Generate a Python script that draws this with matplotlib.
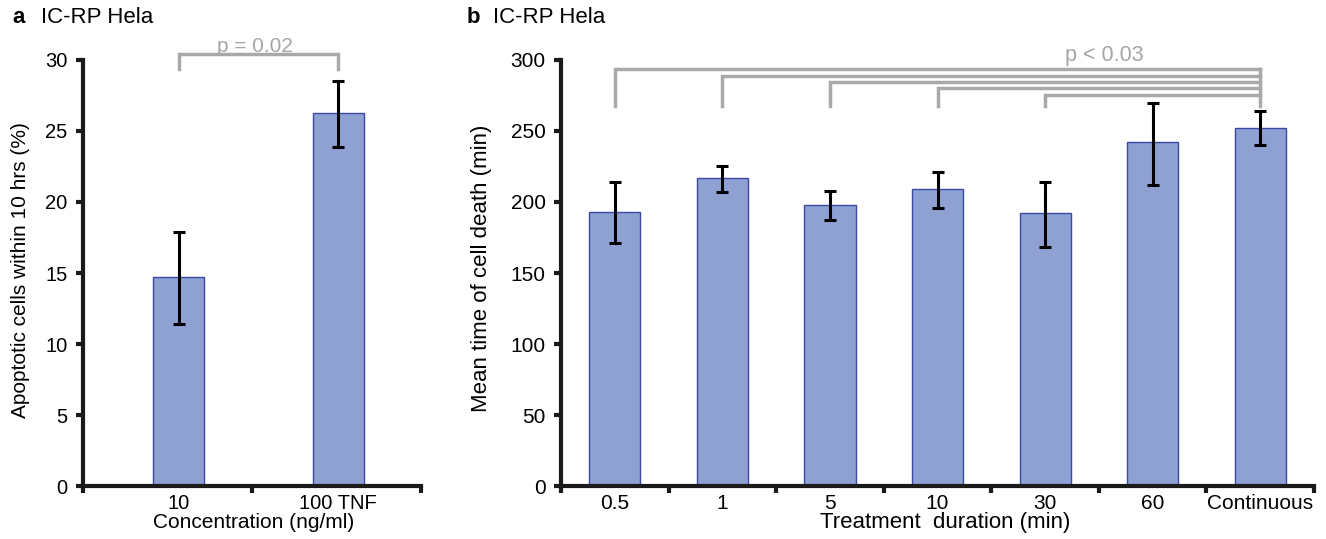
import matplotlib
matplotlib.use("Agg")
import matplotlib.pyplot as plt
import numpy as np

plt.rcParams["font.family"] = ["Liberation Sans", "DejaVu Sans"]

# panel a: apoptosis within 10 hrs
conc_labels = ["10", "100 TNF"]
apopt_mean = [14.7, 26.3]
apopt_lo = [11.4, 23.9]
apopt_hi = [17.9, 28.5]

# panel b: mean time of cell death
dur_labels = ["0.5", "1", "5", "10", "30", "60", "Continuous"]
death_mean = [193, 217, 198, 209, 192, 242, 252]
death_lo = [171, 207, 187, 196, 168, 212, 240]
death_hi = [214, 225, 208, 221, 214, 270, 264]

# significance brackets in panel b: (left category, bracket height)
brk_left = [0, 1, 2, 3, 4]
brk_y = [294, 289, 284.5, 280, 275.5]
brk_foot = 267.5

BAR = "#8ea1d2"
EDGE = "#3a48a3"
GREY = "#a9a9a9"


def style_axes(ax, lo, hi, n, labels, ticksize):
    for s in ("top", "right"):
        ax.spines[s].set_visible(False)
    for s in ("left", "bottom"):
        ax.spines[s].set_linewidth(3)
        ax.spines[s].set_color("#1a1a1a")
    ax.set_xlim(lo, hi)
    ax.set_xticks(np.linspace(lo, hi, n + 1))
    ax.set_xticklabels([])
    ax.set_xticks(np.arange(n), labels, minor=True)
    ax.tick_params(axis="x", which="major", length=5, width=3, direction="out", color="#1a1a1a")
    ax.tick_params(axis="x", which="minor", length=0, pad=6, labelsize=ticksize)
    ax.tick_params(axis="y", length=5, width=3, direction="out", pad=6, labelsize=ticksize, color="#1a1a1a")


fig = plt.figure(figsize=(13.26, 5.39), dpi=100)

# ---- panel a
axa = fig.add_axes([0.0626, 0.0983, 0.2549, 0.7904])
xa = np.arange(len(conc_labels))
mean = np.array(apopt_mean)
yerr = [mean - np.array(apopt_lo), np.array(apopt_hi) - mean]
axa.bar(xa, mean, width=0.32, color=BAR, edgecolor=EDGE, linewidth=1, zorder=2)
axa.errorbar(xa, mean, yerr=yerr, fmt="none", ecolor="black", elinewidth=2.2,
             capsize=4.5, capthick=2.2, zorder=3)
axa.set_ylim(0, 30)
axa.set_yticks(np.arange(0, 31, 5))
style_axes(axa, -0.599, 1.52, len(conc_labels), conc_labels, 14.5)
axa.set_ylabel("Apoptotic cells within 10 hrs (%)", fontsize=15)
axa.yaxis.set_label_coords(-0.157, 0.507)
axa.set_xlabel("Concentration (ng/ml)", fontsize=15)
axa.xaxis.set_label_coords(0.506, -0.064)
axa.plot([xa[0], xa[0], xa[1], xa[1]], [29.4, 30.4, 30.4, 29.4], color=GREY,
         lw=2.5, clip_on=False, solid_joinstyle="miter")
axa.text(0.48, 30.95, "p = 0.02", color="#a6a6a6", fontsize=15, ha="center",
         va="center", clip_on=False)

# ---- panel b
axb = fig.add_axes([0.4231, 0.0983, 0.5679, 0.7904])
xb = np.arange(len(dur_labels))
mean = np.array(death_mean)
yerr = [mean - np.array(death_lo), np.array(death_hi) - mean]
axb.bar(xb, mean, width=0.475, color=BAR, edgecolor=EDGE, linewidth=1, zorder=2)
axb.errorbar(xb, mean, yerr=yerr, fmt="none", ecolor="black", elinewidth=2.2,
             capsize=4.5, capthick=2.2, zorder=3)
axb.set_ylim(0, 300)
axb.set_yticks(np.arange(0, 301, 50))
style_axes(axb, -0.5, len(dur_labels) - 0.5, len(dur_labels), dur_labels, 15)
axb.set_ylabel("Mean time of cell death (min)", fontsize=16)
axb.yaxis.set_label_coords(-0.0916, 0.51)
axb.set_xlabel("Treatment  duration (min)", fontsize=16)
axb.xaxis.set_label_coords(0.51, -0.062)
right = xb[-1]
for left, y in zip(brk_left, brk_y):
    axb.plot([left, left, right], [brk_foot, y, y], color=GREY, lw=2.5,
             clip_on=False, solid_joinstyle="miter")
axb.plot([right, right], [brk_foot, brk_y[0]], color=GREY, lw=2.5, clip_on=False)
axb.text(4.55, 303, "p < 0.03", color="#a6a6a6", fontsize=15.5, ha="center",
         va="center", clip_on=False)

# panel titles
fig.text(0.009, 0.968, "a", fontsize=16, fontweight="bold", va="center")
fig.text(0.031, 0.968, "IC-RP Hela", fontsize=16, va="center")
fig.text(0.352, 0.968, "b", fontsize=16, fontweight="bold", va="center")
fig.text(0.3715, 0.968, "IC-RP Hela", fontsize=16, va="center")

fig.savefig("out.png", dpi=100)
